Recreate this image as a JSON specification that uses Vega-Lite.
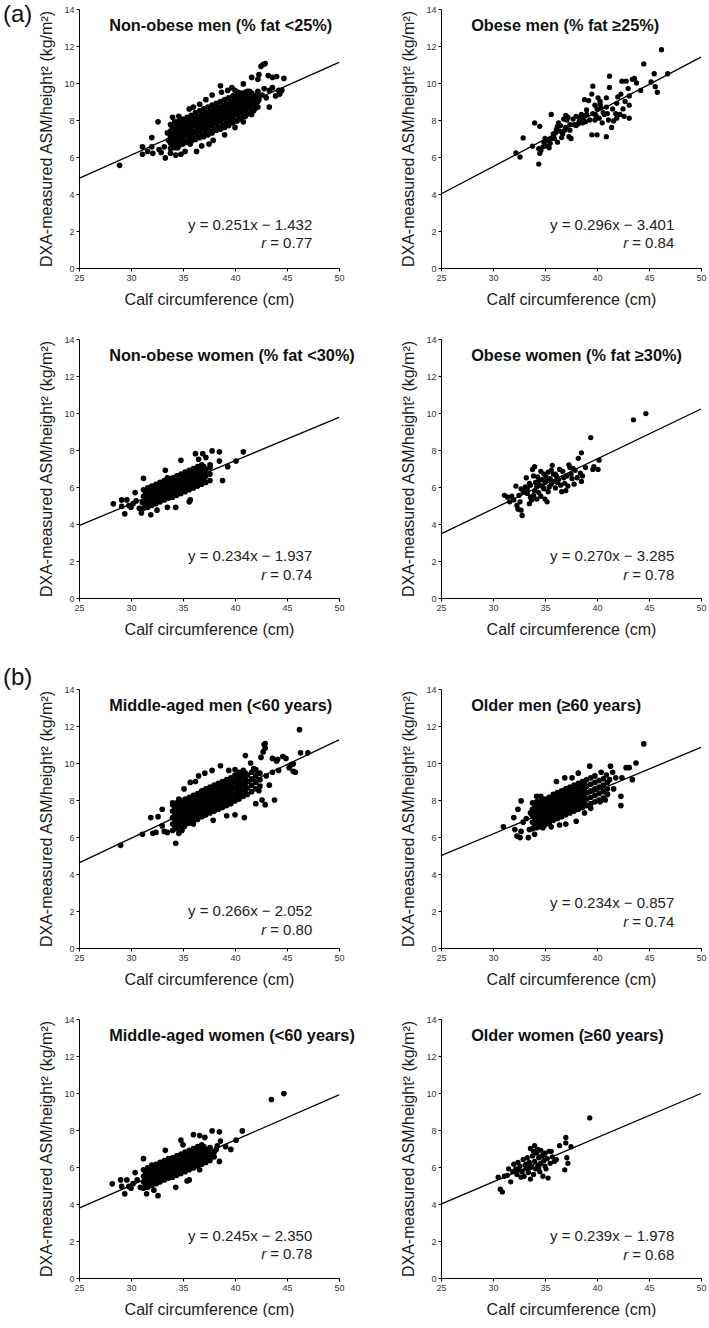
{
"$schema": "https://vega.github.io/schema/vega-lite/v6.json",
"background": "white",
"padding": {"left": 2, "top": 2, "right": 0, "bottom": 0},
"config": {
  "view": {"stroke": null},
  "font": "Liberation Sans",
  "axis": {"domainColor": "#000", "domainWidth": 1, "tickColor": "#000", "tickSize": 3, "tickWidth": 1, "labelFontSize": 9, "labelColor": "#333", "labelPadding": 2, "labelFlush": false, "titleFontSize": 16, "titleFontWeight": "normal", "titleColor": "#1a1a1a", "grid": false, "labelFont": "Liberation Sans", "titleFont": "Liberation Sans"},
  "axisX": {"titlePadding": 9},
  "axisY": {"titlePadding": 9}
},
"datasets": {
"lines": [{"p":1,"x":25,"y":4.843},{"p":1,"x":50,"y":11.118},{"p":2,"x":25,"y":3.999},{"p":2,"x":50,"y":11.399},{"p":3,"x":25,"y":3.913},{"p":3,"x":50,"y":9.763},{"p":4,"x":25,"y":3.465},{"p":4,"x":50,"y":10.215},{"p":5,"x":25,"y":4.598},{"p":5,"x":50,"y":11.248},{"p":6,"x":25,"y":4.993},{"p":6,"x":50,"y":10.843},{"p":7,"x":25,"y":3.775},{"p":7,"x":50,"y":9.9},{"p":8,"x":25,"y":3.997},{"p":8,"x":50,"y":9.972}],
"labels": [
{"p":1,"k":"tag","x":19.1,"y":13.68,"t":"(a)"},
{"p":5,"k":"tag","x":19.1,"y":14.6,"t":"(b)"},
{"p":1,"k":"title","x":27.9,"y":13.1,"t":"Non-obese men (% fat <25%)"},
{"p":1,"k":"eq","x":47.43,"y":2.32,"t":"y = 0.251x − 1.432"},
{"p":1,"k":"r","x":47.43,"y":1.33,"t":"= 0.77"},
{"p":2,"k":"title","x":27.9,"y":13.1,"t":"Obese men (% fat ≥25%)"},
{"p":2,"k":"eq","x":47.43,"y":2.3,"t":"y = 0.296x − 3.401"},
{"p":2,"k":"r","x":47.43,"y":1.35,"t":"= 0.84"},
{"p":3,"k":"title","x":27.9,"y":13.1,"t":"Non-obese women (% fat <30%)"},
{"p":3,"k":"eq","x":47.43,"y":2.26,"t":"y = 0.234x − 1.937"},
{"p":3,"k":"r","x":47.43,"y":1.23,"t":"= 0.74"},
{"p":4,"k":"title","x":27.9,"y":13.1,"t":"Obese women (% fat ≥30%)"},
{"p":4,"k":"eq","x":47.43,"y":2.26,"t":"y = 0.270x − 3.285"},
{"p":4,"k":"r","x":47.43,"y":1.26,"t":"= 0.78"},
{"p":5,"k":"title","x":27.9,"y":13.1,"t":"Middle-aged men (<60 years)"},
{"p":5,"k":"eq","x":47.43,"y":2.0,"t":"y = 0.266x − 2.052"},
{"p":5,"k":"r","x":47.43,"y":1.0,"t":"= 0.80"},
{"p":6,"k":"title","x":27.9,"y":13.1,"t":"Older men (≥60 years)"},
{"p":6,"k":"eq","x":47.43,"y":2.45,"t":"y = 0.234x − 0.857"},
{"p":6,"k":"r","x":47.43,"y":1.38,"t":"= 0.74"},
{"p":7,"k":"title","x":27.9,"y":13.1,"t":"Middle-aged women (<60 years)"},
{"p":7,"k":"eq","x":47.43,"y":2.29,"t":"y = 0.245x − 2.350"},
{"p":7,"k":"r","x":47.43,"y":1.3,"t":"= 0.78"},
{"p":8,"k":"title","x":27.9,"y":13.1,"t":"Older women (≥60 years)"},
{"p":8,"k":"eq","x":47.43,"y":2.29,"t":"y = 0.239x − 1.978"},
{"p":8,"k":"r","x":47.43,"y":1.25,"t":"= 0.68"}
],
"p1": [{"x":28.9,"y":5.55},{"x":31.1,"y":6.55},{"x":31.1,"y":6.15},{"x":31.6,"y":6.3},{"x":32.0,"y":7.05},{"x":32.0,"y":6.55},{"x":32.1,"y":6.2},{"x":32.6,"y":7.9},{"x":32.7,"y":6.4},{"x":32.9,"y":6.25},{"x":33.3,"y":5.95},{"x":33.2,"y":6.55},{"x":33.5,"y":7.3},{"x":33.8,"y":6.2},{"x":33.6,"y":6.9},{"x":34.0,"y":8.15},{"x":34.3,"y":6.1},{"x":34.8,"y":6.15},{"x":34.6,"y":8.2},{"x":35.2,"y":6.3},{"x":36.3,"y":6.3},{"x":35.6,"y":8.6},{"x":36.0,"y":8.7},{"x":36.6,"y":8.85},{"x":37.2,"y":9.1},{"x":37.8,"y":9.35},{"x":38.6,"y":9.85},{"x":39.3,"y":9.6},{"x":40.0,"y":9.6},{"x":40.3,"y":9.5},{"x":40.8,"y":9.95},{"x":41.2,"y":9.55},{"x":41.6,"y":10.3},{"x":42.2,"y":10.2},{"x":42.5,"y":10.9},{"x":42.7,"y":11.0},{"x":42.9,"y":11.05},{"x":42.3,"y":10.45},{"x":43.2,"y":10.4},{"x":43.6,"y":10.3},{"x":44.0,"y":10.35},{"x":44.7,"y":10.25},{"x":42.8,"y":9.7},{"x":43.3,"y":9.6},{"x":43.6,"y":9.75},{"x":44.2,"y":9.6},{"x":44.5,"y":9.6},{"x":44.3,"y":9.4},{"x":43.9,"y":9.3},{"x":43.3,"y":8.7},{"x":42.3,"y":9.1},{"x":42.0,"y":8.8},{"x":41.6,"y":8.3},{"x":40.8,"y":7.9},{"x":40.0,"y":7.6},{"x":39.0,"y":7.2},{"x":37.9,"y":6.9},{"x":37.5,"y":6.7},{"x":36.8,"y":6.6},{"x":35.7,"y":6.7},{"x":34.5,"y":6.5},{"x":38.7,"y":9.5},{"x":39.7,"y":9.75},{"x":41.8,"y":9.3},{"x":42.6,"y":9.35},{"x":43.0,"y":9.2},
{"x":33.8,"y":6.45},{"x":33.8,"y":6.75},{"x":33.8,"y":7.1},{"x":33.8,"y":7.4},{"x":33.8,"y":7.75},
{"x":34.0,"y":6.6},{"x":34.0,"y":6.95},{"x":34.0,"y":7.25},{"x":34.0,"y":7.6},
{"x":34.2,"y":6.5},{"x":34.2,"y":6.85},{"x":34.2,"y":7.2},{"x":34.2,"y":7.5},{"x":34.2,"y":7.9},
{"x":34.4,"y":6.7},{"x":34.4,"y":7.05},{"x":34.4,"y":7.35},{"x":34.4,"y":7.7},
{"x":34.6,"y":6.6},{"x":34.6,"y":6.95},{"x":34.6,"y":7.25},{"x":34.6,"y":7.6},{"x":34.6,"y":7.95},
{"x":34.8,"y":6.75},{"x":34.8,"y":7.1},{"x":34.8,"y":7.45},{"x":34.8,"y":7.8},
{"x":35.0,"y":6.7},{"x":35.0,"y":7.0},{"x":35.0,"y":7.4},{"x":35.0,"y":7.7},{"x":35.0,"y":8.05},
{"x":35.2,"y":6.85},{"x":35.2,"y":7.2},{"x":35.2,"y":7.55},{"x":35.2,"y":7.9},
{"x":35.4,"y":6.8},{"x":35.4,"y":7.15},{"x":35.4,"y":7.45},{"x":35.4,"y":7.8},{"x":35.4,"y":8.15},
{"x":35.6,"y":6.95},{"x":35.6,"y":7.3},{"x":35.6,"y":7.65},{"x":35.6,"y":8.0},
{"x":35.8,"y":6.85},{"x":35.8,"y":7.2},{"x":35.8,"y":7.55},{"x":35.8,"y":7.9},{"x":35.8,"y":8.25},
{"x":36.0,"y":7.0},{"x":36.0,"y":7.4},{"x":36.0,"y":7.75},{"x":36.0,"y":8.1},
{"x":36.2,"y":6.95},{"x":36.2,"y":7.3},{"x":36.2,"y":7.7},{"x":36.2,"y":8.0},{"x":36.2,"y":8.4},
{"x":36.4,"y":7.1},{"x":36.4,"y":7.5},{"x":36.4,"y":7.85},{"x":36.4,"y":8.2},
{"x":36.6,"y":7.05},{"x":36.6,"y":7.4},{"x":36.6,"y":7.75},{"x":36.6,"y":8.1},{"x":36.6,"y":8.5},
{"x":36.8,"y":7.2},{"x":36.8,"y":7.6},{"x":36.8,"y":7.95},{"x":36.8,"y":8.3},
{"x":37.0,"y":7.1},{"x":37.0,"y":7.5},{"x":37.0,"y":7.85},{"x":37.0,"y":8.2},{"x":37.0,"y":8.6},
{"x":37.2,"y":7.3},{"x":37.2,"y":7.7},{"x":37.2,"y":8.05},{"x":37.2,"y":8.4},
{"x":37.4,"y":7.2},{"x":37.4,"y":7.6},{"x":37.4,"y":7.95},{"x":37.4,"y":8.3},{"x":37.4,"y":8.7},
{"x":37.6,"y":7.4},{"x":37.6,"y":7.8},{"x":37.6,"y":8.15},{"x":37.6,"y":8.5},
{"x":37.8,"y":7.3},{"x":37.8,"y":7.7},{"x":37.8,"y":8.05},{"x":37.8,"y":8.4},{"x":37.8,"y":8.8},
{"x":38.0,"y":7.5},{"x":38.0,"y":7.9},{"x":38.0,"y":8.25},{"x":38.0,"y":8.6},
{"x":38.2,"y":7.45},{"x":38.2,"y":7.8},{"x":38.2,"y":8.15},{"x":38.2,"y":8.5},{"x":38.2,"y":8.9},
{"x":38.4,"y":7.6},{"x":38.4,"y":8.0},{"x":38.4,"y":8.35},{"x":38.4,"y":8.7},
{"x":38.6,"y":7.5},{"x":38.6,"y":7.9},{"x":38.6,"y":8.25},{"x":38.6,"y":8.6},{"x":38.6,"y":9.0},
{"x":38.8,"y":7.7},{"x":38.8,"y":8.1},{"x":38.8,"y":8.45},{"x":38.8,"y":8.8},
{"x":39.0,"y":7.6},{"x":39.0,"y":8.0},{"x":39.0,"y":8.35},{"x":39.0,"y":8.7},{"x":39.0,"y":9.1},
{"x":39.2,"y":7.8},{"x":39.2,"y":8.2},{"x":39.2,"y":8.55},{"x":39.2,"y":8.9},
{"x":39.4,"y":7.7},{"x":39.4,"y":8.1},{"x":39.4,"y":8.45},{"x":39.4,"y":8.8},{"x":39.4,"y":9.2},
{"x":39.6,"y":7.9},{"x":39.6,"y":8.3},{"x":39.6,"y":8.65},{"x":39.6,"y":9.0},
{"x":39.8,"y":7.85},{"x":39.8,"y":8.2},{"x":39.8,"y":8.55},{"x":39.8,"y":8.9},{"x":39.8,"y":9.3},
{"x":40.0,"y":8.0},{"x":40.0,"y":8.4},{"x":40.0,"y":8.75},{"x":40.0,"y":9.1},
{"x":40.2,"y":7.95},{"x":40.2,"y":8.3},{"x":40.2,"y":8.65},{"x":40.2,"y":9.0},{"x":40.2,"y":9.35},
{"x":40.4,"y":8.1},{"x":40.4,"y":8.5},{"x":40.4,"y":8.85},{"x":40.4,"y":9.2},
{"x":40.6,"y":8.05},{"x":40.6,"y":8.4},{"x":40.6,"y":8.75},{"x":40.6,"y":9.1},{"x":40.6,"y":9.45},
{"x":40.8,"y":8.2},{"x":40.8,"y":8.6},{"x":40.8,"y":8.95},{"x":40.8,"y":9.3},
{"x":41.0,"y":8.2},{"x":41.0,"y":8.5},{"x":41.0,"y":8.85},{"x":41.0,"y":9.2},{"x":41.0,"y":9.5},
{"x":41.2,"y":8.35},{"x":41.2,"y":8.7},{"x":41.2,"y":9.05},{"x":41.2,"y":9.35},
{"x":41.4,"y":8.35},{"x":41.4,"y":8.65},{"x":41.4,"y":8.95},{"x":41.4,"y":9.25},{"x":41.4,"y":9.55},
{"x":41.6,"y":8.5},{"x":41.6,"y":8.85},{"x":41.6,"y":9.15},{"x":41.6,"y":9.45},
{"x":41.8,"y":8.5},{"x":41.8,"y":8.8},{"x":41.8,"y":9.05},{"x":41.8,"y":9.35},
{"x":42.0,"y":8.65},{"x":42.0,"y":8.95},{"x":42.0,"y":9.25},
{"x":42.2,"y":8.7},{"x":42.2,"y":9.0},{"x":42.2,"y":9.3},{"x":42.2,"y":9.55}],
"p2": [{"x":32.2,"y":6.22},{"x":32.6,"y":6.0},{"x":32.9,"y":7.03},{"x":33.8,"y":6.58},{"x":34.0,"y":7.84},{"x":34.4,"y":5.62},{"x":34.5,"y":7.66},{"x":34.4,"y":6.45},{"x":34.5,"y":6.2},{"x":34.6,"y":6.35},{"x":34.9,"y":6.8},{"x":35.0,"y":7.0},{"x":35.1,"y":6.6},{"x":35.4,"y":6.5},{"x":35.5,"y":6.75},{"x":35.6,"y":7.0},{"x":35.6,"y":8.3},{"x":35.9,"y":7.0},{"x":36.0,"y":7.3},{"x":36.1,"y":7.5},{"x":36.2,"y":7.65},{"x":36.3,"y":7.85},{"x":36.5,"y":7.7},{"x":36.7,"y":7.25},{"x":36.8,"y":8.05},{"x":36.9,"y":7.45},{"x":37.0,"y":8.25},{"x":37.1,"y":8.0},{"x":37.0,"y":7.6},{"x":37.3,"y":7.1},{"x":37.4,"y":7.45},{"x":37.4,"y":7.75},{"x":37.5,"y":7.0},{"x":37.7,"y":8.05},{"x":38.0,"y":8.2},{"x":38.3,"y":7.95},{"x":38.4,"y":8.15},{"x":38.6,"y":7.85},{"x":38.7,"y":8.1},{"x":38.9,"y":7.9},{"x":39.0,"y":8.3},{"x":39.0,"y":8.55},{"x":38.8,"y":9.1},{"x":39.2,"y":9.05},{"x":39.5,"y":9.4},{"x":39.6,"y":9.83},{"x":39.8,"y":8.0},{"x":39.9,"y":8.25},{"x":40.0,"y":8.6},{"x":39.5,"y":7.2},{"x":40.0,"y":7.2},{"x":40.1,"y":9.2},{"x":40.3,"y":8.85},{"x":40.4,"y":8.65},{"x":40.5,"y":7.85},{"x":40.7,"y":8.3},{"x":40.9,"y":9.2},{"x":40.9,"y":8.7},{"x":41.0,"y":8.35},{"x":41.2,"y":9.76},{"x":41.2,"y":10.37},{"x":40.9,"y":7.1},{"x":41.4,"y":7.6},{"x":41.6,"y":7.95},{"x":41.9,"y":8.1},{"x":41.9,"y":8.9},{"x":42.0,"y":9.25},{"x":42.3,"y":9.4},{"x":42.5,"y":8.6},{"x":42.7,"y":9.0},{"x":43.1,"y":9.3},{"x":42.4,"y":10.1},{"x":43.0,"y":9.7},{"x":43.1,"y":8.8},{"x":43.1,"y":8.1},{"x":43.4,"y":10.2},{"x":43.6,"y":10.25},{"x":43.8,"y":10.0},{"x":44.2,"y":9.6},{"x":44.5,"y":11.03},{"x":45.2,"y":10.06},{"x":45.5,"y":10.5},{"x":45.6,"y":9.8},{"x":45.8,"y":9.5},{"x":46.2,"y":11.8},{"x":46.8,"y":10.5},{"x":36.2,"y":6.8},{"x":36.6,"y":7.05},{"x":37.8,"y":7.75},{"x":38.2,"y":7.8},{"x":38.5,"y":8.3},{"x":39.3,"y":8.0},{"x":39.6,"y":8.35},{"x":40.2,"y":8.1},{"x":40.6,"y":8.4},{"x":41.1,"y":8.0},{"x":41.5,"y":8.6},{"x":41.8,"y":8.35},{"x":42.2,"y":8.3},{"x":40.3,"y":9.0},{"x":39.8,"y":8.8},{"x":42.8,"y":10.1},{"x":42.6,"y":8.2},{"x":38.0,"y":7.7},{"x":37.2,"y":8.15},{"x":36.4,"y":7.4},{"x":35.8,"y":7.25},{"x":35.2,"y":6.9},{"x":34.8,"y":6.55}],
"p3": [{"x":28.3,"y":5.09},{"x":29.1,"y":5.3},{"x":29.1,"y":4.95},{"x":29.4,"y":4.55},{"x":29.6,"y":5.3},{"x":30.0,"y":4.9},{"x":30.2,"y":5.1},{"x":30.4,"y":5.7},{"x":30.5,"y":5.25},{"x":30.8,"y":4.85},{"x":31.0,"y":4.6},{"x":31.1,"y":5.15},{"x":31.2,"y":6.47},{"x":31.9,"y":4.5},{"x":32.1,"y":6.0},{"x":33.3,"y":6.9},{"x":33.5,"y":6.5},{"x":34.8,"y":7.44},{"x":36.2,"y":7.8},{"x":36.9,"y":7.8},{"x":37.8,"y":7.95},{"x":38.5,"y":7.9},{"x":38.5,"y":7.4},{"x":39.3,"y":7.1},{"x":40.1,"y":7.4},{"x":40.8,"y":7.9},{"x":38.8,"y":6.35},{"x":33.5,"y":4.9},{"x":34.3,"y":4.9},{"x":35.6,"y":5.2},{"x":35.7,"y":5.3},{"x":37.2,"y":7.6},{"x":37.6,"y":7.2},{"x":36.5,"y":7.5},{"x":32.5,"y":4.75},{"x":29.8,"y":5.0},
{"x":31.2,"y":4.85},{"x":31.2,"y":5.2},{"x":31.2,"y":5.5},{"x":31.2,"y":5.85},
{"x":31.4,"y":5.05},{"x":31.4,"y":5.4},{"x":31.4,"y":5.7},
{"x":31.6,"y":4.9},{"x":31.6,"y":5.25},{"x":31.6,"y":5.6},{"x":31.6,"y":5.95},
{"x":31.8,"y":5.1},{"x":31.8,"y":5.45},{"x":31.8,"y":5.8},
{"x":32.0,"y":5.0},{"x":32.0,"y":5.35},{"x":32.0,"y":5.7},{"x":32.0,"y":6.05},
{"x":32.2,"y":5.2},{"x":32.2,"y":5.55},{"x":32.2,"y":5.9},
{"x":32.4,"y":5.1},{"x":32.4,"y":5.45},{"x":32.4,"y":5.8},{"x":32.4,"y":6.15},
{"x":32.6,"y":5.3},{"x":32.6,"y":5.65},{"x":32.6,"y":6.0},
{"x":32.8,"y":5.2},{"x":32.8,"y":5.55},{"x":32.8,"y":5.9},{"x":32.8,"y":6.25},
{"x":33.0,"y":5.4},{"x":33.0,"y":5.75},{"x":33.0,"y":6.1},
{"x":33.2,"y":5.3},{"x":33.2,"y":5.65},{"x":33.2,"y":6.0},{"x":33.2,"y":6.35},
{"x":33.4,"y":5.5},{"x":33.4,"y":5.85},{"x":33.4,"y":6.2},
{"x":33.6,"y":5.4},{"x":33.6,"y":5.75},{"x":33.6,"y":6.1},{"x":33.6,"y":6.45},
{"x":33.8,"y":5.6},{"x":33.8,"y":5.95},{"x":33.8,"y":6.3},
{"x":34.0,"y":5.45},{"x":34.0,"y":5.8},{"x":34.0,"y":6.15},{"x":34.0,"y":6.5},
{"x":34.2,"y":5.7},{"x":34.2,"y":6.05},{"x":34.2,"y":6.4},
{"x":34.4,"y":5.55},{"x":34.4,"y":5.9},{"x":34.4,"y":6.25},{"x":34.4,"y":6.6},
{"x":34.6,"y":5.8},{"x":34.6,"y":6.15},{"x":34.6,"y":6.5},
{"x":34.8,"y":5.65},{"x":34.8,"y":6.0},{"x":34.8,"y":6.35},{"x":34.8,"y":6.7},
{"x":35.0,"y":5.9},{"x":35.0,"y":6.25},{"x":35.0,"y":6.6},
{"x":35.2,"y":5.75},{"x":35.2,"y":6.1},{"x":35.2,"y":6.45},{"x":35.2,"y":6.8},
{"x":35.4,"y":6.0},{"x":35.4,"y":6.35},{"x":35.4,"y":6.7},
{"x":35.6,"y":5.85},{"x":35.6,"y":6.2},{"x":35.6,"y":6.55},{"x":35.6,"y":6.9},
{"x":35.8,"y":6.1},{"x":35.8,"y":6.45},{"x":35.8,"y":6.8},
{"x":36.0,"y":5.95},{"x":36.0,"y":6.3},{"x":36.0,"y":6.65},{"x":36.0,"y":7.0},
{"x":36.2,"y":6.2},{"x":36.2,"y":6.55},{"x":36.2,"y":6.9},
{"x":36.4,"y":6.05},{"x":36.4,"y":6.4},{"x":36.4,"y":6.75},{"x":36.4,"y":7.1},
{"x":36.6,"y":6.3},{"x":36.6,"y":6.65},{"x":36.6,"y":7.0},
{"x":36.8,"y":6.15},{"x":36.8,"y":6.5},{"x":36.8,"y":6.85},{"x":36.8,"y":7.2},
{"x":37.0,"y":6.4},{"x":37.0,"y":6.75},{"x":37.0,"y":7.1},
{"x":37.2,"y":6.25},{"x":37.2,"y":6.6},{"x":37.2,"y":6.95},
{"x":37.6,"y":6.35},{"x":37.6,"y":6.7},{"x":37.6,"y":7.05}],
"p4": [{"x":31.1,"y":5.55},{"x":31.4,"y":5.45},{"x":31.6,"y":5.2},{"x":32.0,"y":5.3},{"x":32.2,"y":6.05},{"x":32.3,"y":5.0},{"x":32.4,"y":4.8},{"x":32.5,"y":5.55},{"x":32.6,"y":5.2},{"x":32.7,"y":4.75},{"x":32.8,"y":4.46},{"x":32.9,"y":5.75},{"x":33.0,"y":5.85},{"x":33.1,"y":6.0},{"x":33.2,"y":6.5},{"x":33.3,"y":5.65},{"x":33.3,"y":5.9},{"x":33.5,"y":6.2},{"x":33.6,"y":5.45},{"x":33.7,"y":5.3},{"x":33.8,"y":6.95},{"x":33.9,"y":5.55},{"x":34.0,"y":7.1},{"x":34.0,"y":5.8},{"x":34.1,"y":6.25},{"x":34.2,"y":6.0},{"x":34.3,"y":6.55},{"x":34.4,"y":5.7},{"x":34.5,"y":6.1},{"x":34.6,"y":5.5},{"x":34.7,"y":6.4},{"x":34.8,"y":6.0},{"x":34.9,"y":6.7},{"x":35.0,"y":5.35},{"x":35.0,"y":6.25},{"x":35.1,"y":6.55},{"x":35.2,"y":5.2},{"x":35.3,"y":6.8},{"x":35.4,"y":6.0},{"x":35.5,"y":6.45},{"x":35.6,"y":6.15},{"x":35.7,"y":7.17},{"x":35.8,"y":6.7},{"x":35.9,"y":6.3},{"x":36.0,"y":5.95},{"x":36.1,"y":6.6},{"x":36.3,"y":6.4},{"x":36.4,"y":6.95},{"x":36.5,"y":6.1},{"x":36.6,"y":5.75},{"x":36.8,"y":6.5},{"x":36.9,"y":6.2},{"x":37.0,"y":5.8},{"x":37.1,"y":6.6},{"x":37.2,"y":6.05},{"x":37.3,"y":7.2},{"x":37.4,"y":7.05},{"x":37.5,"y":6.7},{"x":37.6,"y":6.45},{"x":37.7,"y":7.0},{"x":37.9,"y":6.9},{"x":38.1,"y":6.5},{"x":38.2,"y":7.55},{"x":38.4,"y":6.75},{"x":38.5,"y":7.85},{"x":38.5,"y":6.3},{"x":38.6,"y":6.6},{"x":38.9,"y":7.05},{"x":39.4,"y":8.67},{"x":39.6,"y":6.95},{"x":39.7,"y":7.1},{"x":40.1,"y":6.95},{"x":40.2,"y":7.45},{"x":43.5,"y":9.63},{"x":44.7,"y":9.97},{"x":33.5,"y":5.1},{"x":34.2,"y":5.35},{"x":35.3,"y":5.75},{"x":36.2,"y":6.25},{"x":33.9,"y":6.6},{"x":34.6,"y":6.85},{"x":35.6,"y":6.9},{"x":36.7,"y":6.85},{"x":37.8,"y":6.15},{"x":32.7,"y":5.9},{"x":31.8,"y":5.5},{"x":34.9,"y":5.9},{"x":36.0,"y":6.7},{"x":35.1,"y":6.35},{"x":34.4,"y":6.35},{"x":33.6,"y":6.1}],
"p5": [{"x":29.0,"y":5.55},{"x":31.1,"y":6.15},{"x":31.9,"y":7.05},{"x":32.1,"y":6.2},{"x":32.4,"y":6.25},{"x":32.6,"y":7.1},{"x":33.0,"y":6.6},{"x":33.0,"y":7.5},{"x":33.2,"y":6.3},{"x":33.5,"y":6.25},{"x":34.3,"y":5.66},{"x":34.6,"y":6.2},{"x":34.9,"y":6.35},{"x":35.1,"y":6.55},{"x":34.0,"y":7.85},{"x":34.6,"y":8.05},{"x":35.1,"y":8.6},{"x":35.7,"y":8.95},{"x":36.2,"y":9.0},{"x":36.5,"y":9.3},{"x":37.1,"y":9.45},{"x":37.8,"y":9.6},{"x":38.6,"y":9.85},{"x":39.4,"y":9.6},{"x":40.0,"y":9.65},{"x":40.4,"y":9.5},{"x":41.0,"y":10.4},{"x":41.5,"y":10.0},{"x":42.5,"y":10.3},{"x":42.7,"y":10.6},{"x":42.9,"y":10.8},{"x":42.8,"y":11.0},{"x":42.9,"y":11.05},{"x":43.6,"y":10.25},{"x":44.1,"y":10.2},{"x":44.6,"y":10.35},{"x":44.9,"y":10.25},{"x":45.2,"y":9.75},{"x":45.4,"y":9.9},{"x":45.6,"y":9.95},{"x":45.6,"y":9.55},{"x":45.8,"y":9.5},{"x":46.3,"y":10.55},{"x":46.2,"y":11.8},{"x":47.0,"y":10.55},{"x":36.9,"y":7.15},{"x":37.9,"y":6.9},{"x":39.2,"y":7.15},{"x":40.0,"y":7.2},{"x":40.9,"y":7.05},{"x":42.0,"y":7.8},{"x":42.6,"y":8.0},{"x":42.9,"y":7.75},{"x":43.8,"y":8.0},{"x":42.3,"y":8.5},{"x":43.3,"y":8.8},{"x":43.0,"y":9.3},{"x":43.6,"y":9.5},{"x":44.2,"y":9.6},{"x":41.8,"y":9.7},{"x":42.2,"y":9.45},{"x":44.0,"y":10.1},{"x":36.0,"y":6.7},{"x":35.6,"y":6.9},
{"x":34.0,"y":6.35},{"x":34.0,"y":6.7},{"x":34.0,"y":7.05},{"x":34.0,"y":7.4},{"x":34.0,"y":7.75},
{"x":34.2,"y":6.6},{"x":34.2,"y":6.95},{"x":34.2,"y":7.3},{"x":34.2,"y":7.65},
{"x":34.4,"y":6.45},{"x":34.4,"y":6.8},{"x":34.4,"y":7.15},{"x":34.4,"y":7.5},{"x":34.4,"y":7.85},
{"x":34.6,"y":6.7},{"x":34.6,"y":7.05},{"x":34.6,"y":7.4},{"x":34.6,"y":7.75},
{"x":34.8,"y":6.55},{"x":34.8,"y":6.9},{"x":34.8,"y":7.25},{"x":34.8,"y":7.6},{"x":34.8,"y":7.95},
{"x":35.0,"y":6.8},{"x":35.0,"y":7.15},{"x":35.0,"y":7.5},{"x":35.0,"y":7.85},
{"x":35.2,"y":6.65},{"x":35.2,"y":7.0},{"x":35.2,"y":7.35},{"x":35.2,"y":7.7},{"x":35.2,"y":8.05},
{"x":35.4,"y":6.85},{"x":35.4,"y":7.2},{"x":35.4,"y":7.55},{"x":35.4,"y":7.9},
{"x":35.6,"y":6.75},{"x":35.6,"y":7.1},{"x":35.6,"y":7.45},{"x":35.6,"y":7.8},{"x":35.6,"y":8.15},
{"x":35.8,"y":6.95},{"x":35.8,"y":7.3},{"x":35.8,"y":7.65},{"x":35.8,"y":8.0},
{"x":36.0,"y":6.85},{"x":36.0,"y":7.2},{"x":36.0,"y":7.55},{"x":36.0,"y":7.9},{"x":36.0,"y":8.25},
{"x":36.2,"y":7.1},{"x":36.2,"y":7.45},{"x":36.2,"y":7.8},{"x":36.2,"y":8.15},
{"x":36.4,"y":6.95},{"x":36.4,"y":7.3},{"x":36.4,"y":7.65},{"x":36.4,"y":8.0},{"x":36.4,"y":8.35},
{"x":36.6,"y":7.2},{"x":36.6,"y":7.55},{"x":36.6,"y":7.9},{"x":36.6,"y":8.25},
{"x":36.8,"y":7.1},{"x":36.8,"y":7.45},{"x":36.8,"y":7.8},{"x":36.8,"y":8.15},{"x":36.8,"y":8.5},
{"x":37.0,"y":7.3},{"x":37.0,"y":7.65},{"x":37.0,"y":8.0},{"x":37.0,"y":8.35},
{"x":37.2,"y":7.2},{"x":37.2,"y":7.55},{"x":37.2,"y":7.9},{"x":37.2,"y":8.25},{"x":37.2,"y":8.6},
{"x":37.4,"y":7.4},{"x":37.4,"y":7.75},{"x":37.4,"y":8.1},{"x":37.4,"y":8.45},
{"x":37.6,"y":7.3},{"x":37.6,"y":7.65},{"x":37.6,"y":8.0},{"x":37.6,"y":8.35},{"x":37.6,"y":8.7},
{"x":37.8,"y":7.5},{"x":37.8,"y":7.85},{"x":37.8,"y":8.2},{"x":37.8,"y":8.55},
{"x":38.0,"y":7.4},{"x":38.0,"y":7.75},{"x":38.0,"y":8.1},{"x":38.0,"y":8.45},{"x":38.0,"y":8.8},
{"x":38.2,"y":7.6},{"x":38.2,"y":7.95},{"x":38.2,"y":8.3},{"x":38.2,"y":8.65},
{"x":38.4,"y":7.5},{"x":38.4,"y":7.85},{"x":38.4,"y":8.2},{"x":38.4,"y":8.55},{"x":38.4,"y":8.9},
{"x":38.6,"y":7.7},{"x":38.6,"y":8.05},{"x":38.6,"y":8.4},{"x":38.6,"y":8.75},
{"x":38.8,"y":7.6},{"x":38.8,"y":7.95},{"x":38.8,"y":8.3},{"x":38.8,"y":8.65},{"x":38.8,"y":9.0},
{"x":39.0,"y":7.8},{"x":39.0,"y":8.15},{"x":39.0,"y":8.5},{"x":39.0,"y":8.85},
{"x":39.2,"y":7.7},{"x":39.2,"y":8.05},{"x":39.2,"y":8.4},{"x":39.2,"y":8.75},{"x":39.2,"y":9.1},
{"x":39.4,"y":7.9},{"x":39.4,"y":8.25},{"x":39.4,"y":8.6},{"x":39.4,"y":8.95},
{"x":39.6,"y":7.8},{"x":39.6,"y":8.15},{"x":39.6,"y":8.5},{"x":39.6,"y":8.85},{"x":39.6,"y":9.2},
{"x":39.8,"y":8.0},{"x":39.8,"y":8.35},{"x":39.8,"y":8.7},{"x":39.8,"y":9.05},
{"x":40.0,"y":7.95},{"x":40.0,"y":8.3},{"x":40.0,"y":8.65},{"x":40.0,"y":9.0},{"x":40.0,"y":9.35},
{"x":40.2,"y":8.15},{"x":40.2,"y":8.5},{"x":40.2,"y":8.85},{"x":40.2,"y":9.2},
{"x":40.4,"y":8.05},{"x":40.4,"y":8.4},{"x":40.4,"y":8.75},{"x":40.4,"y":9.1},{"x":40.4,"y":9.45},
{"x":40.6,"y":8.25},{"x":40.6,"y":8.6},{"x":40.6,"y":8.95},{"x":40.6,"y":9.3},
{"x":40.8,"y":8.2},{"x":40.8,"y":8.55},{"x":40.8,"y":8.9},{"x":40.8,"y":9.25},{"x":40.8,"y":9.6},
{"x":41.0,"y":8.4},{"x":41.0,"y":8.75},{"x":41.0,"y":9.1},{"x":41.0,"y":9.45},
{"x":41.2,"y":8.3},{"x":41.2,"y":8.65},{"x":41.2,"y":9.0},{"x":41.2,"y":9.35},
{"x":41.6,"y":8.45},{"x":41.6,"y":8.8},{"x":41.6,"y":9.15},{"x":41.6,"y":9.5},
{"x":42.0,"y":8.6},{"x":42.0,"y":8.95},{"x":42.0,"y":9.3},{"x":42.0,"y":9.65},
{"x":42.4,"y":8.75},{"x":42.4,"y":9.1},{"x":42.4,"y":9.45}],
"p6": [{"x":31.0,"y":6.55},{"x":32.0,"y":7.05},{"x":32.1,"y":6.4},{"x":32.3,"y":6.05},{"x":32.6,"y":5.97},{"x":32.7,"y":6.3},{"x":32.4,"y":7.5},{"x":32.7,"y":7.95},{"x":33.4,"y":5.97},{"x":33.5,"y":6.4},{"x":34.0,"y":6.15},{"x":33.8,"y":7.85},{"x":34.2,"y":8.2},{"x":34.6,"y":8.2},{"x":33.2,"y":7.0},{"x":32.9,"y":6.8},{"x":36.1,"y":9.0},{"x":36.9,"y":9.2},{"x":37.6,"y":9.2},{"x":38.2,"y":9.45},{"x":39.3,"y":9.83},{"x":40.4,"y":9.5},{"x":41.3,"y":9.83},{"x":41.5,"y":9.5},{"x":41.8,"y":9.2},{"x":42.3,"y":8.2},{"x":42.3,"y":7.7},{"x":42.4,"y":9.2},{"x":42.8,"y":9.75},{"x":43.1,"y":9.75},{"x":43.4,"y":9.1},{"x":43.75,"y":10.0},{"x":44.5,"y":11.03},{"x":37.0,"y":6.7},{"x":38.0,"y":6.85},{"x":38.8,"y":7.3},{"x":39.4,"y":7.55},{"x":40.3,"y":7.9},{"x":40.8,"y":8.0},{"x":35.6,"y":6.55},{"x":36.4,"y":6.65},{"x":34.8,"y":6.5},{"x":33.6,"y":7.3},{"x":34.4,"y":7.9},{"x":41.6,"y":8.6},{"x":41.2,"y":9.1},{"x":40.9,"y":9.35},
{"x":33.8,"y":6.45},{"x":33.8,"y":6.8},{"x":33.8,"y":7.15},{"x":33.8,"y":7.5},
{"x":34.0,"y":6.7},{"x":34.0,"y":7.05},{"x":34.0,"y":7.4},{"x":34.0,"y":7.75},
{"x":34.2,"y":6.5},{"x":34.2,"y":6.85},{"x":34.2,"y":7.2},{"x":34.2,"y":7.55},{"x":34.2,"y":7.9},
{"x":34.4,"y":6.75},{"x":34.4,"y":7.1},{"x":34.4,"y":7.45},{"x":34.4,"y":7.8},
{"x":34.6,"y":6.55},{"x":34.6,"y":6.9},{"x":34.6,"y":7.25},{"x":34.6,"y":7.6},{"x":34.6,"y":7.95},
{"x":34.8,"y":6.8},{"x":34.8,"y":7.15},{"x":34.8,"y":7.5},{"x":34.8,"y":7.85},
{"x":35.0,"y":6.65},{"x":35.0,"y":7.0},{"x":35.0,"y":7.35},{"x":35.0,"y":7.7},{"x":35.0,"y":8.05},
{"x":35.2,"y":6.9},{"x":35.2,"y":7.25},{"x":35.2,"y":7.6},{"x":35.2,"y":7.95},
{"x":35.4,"y":6.75},{"x":35.4,"y":7.1},{"x":35.4,"y":7.45},{"x":35.4,"y":7.8},{"x":35.4,"y":8.15},
{"x":35.6,"y":7.0},{"x":35.6,"y":7.35},{"x":35.6,"y":7.7},{"x":35.6,"y":8.05},
{"x":35.8,"y":6.9},{"x":35.8,"y":7.25},{"x":35.8,"y":7.6},{"x":35.8,"y":7.95},{"x":35.8,"y":8.3},
{"x":36.0,"y":7.1},{"x":36.0,"y":7.45},{"x":36.0,"y":7.8},{"x":36.0,"y":8.15},
{"x":36.2,"y":7.0},{"x":36.2,"y":7.35},{"x":36.2,"y":7.7},{"x":36.2,"y":8.05},{"x":36.2,"y":8.4},
{"x":36.4,"y":7.2},{"x":36.4,"y":7.55},{"x":36.4,"y":7.9},{"x":36.4,"y":8.25},
{"x":36.6,"y":7.1},{"x":36.6,"y":7.45},{"x":36.6,"y":7.8},{"x":36.6,"y":8.15},{"x":36.6,"y":8.5},
{"x":36.8,"y":7.3},{"x":36.8,"y":7.65},{"x":36.8,"y":8.0},{"x":36.8,"y":8.35},
{"x":37.0,"y":7.2},{"x":37.0,"y":7.55},{"x":37.0,"y":7.9},{"x":37.0,"y":8.25},{"x":37.0,"y":8.6},
{"x":37.2,"y":7.4},{"x":37.2,"y":7.75},{"x":37.2,"y":8.1},{"x":37.2,"y":8.45},
{"x":37.4,"y":7.3},{"x":37.4,"y":7.65},{"x":37.4,"y":8.0},{"x":37.4,"y":8.35},{"x":37.4,"y":8.7},
{"x":37.6,"y":7.5},{"x":37.6,"y":7.85},{"x":37.6,"y":8.2},{"x":37.6,"y":8.55},
{"x":37.8,"y":7.4},{"x":37.8,"y":7.75},{"x":37.8,"y":8.1},{"x":37.8,"y":8.45},{"x":37.8,"y":8.8},
{"x":38.0,"y":7.6},{"x":38.0,"y":7.95},{"x":38.0,"y":8.3},{"x":38.0,"y":8.65},
{"x":38.2,"y":7.5},{"x":38.2,"y":7.85},{"x":38.2,"y":8.2},{"x":38.2,"y":8.55},{"x":38.2,"y":8.9},
{"x":38.4,"y":7.7},{"x":38.4,"y":8.05},{"x":38.4,"y":8.4},{"x":38.4,"y":8.75},
{"x":38.6,"y":7.6},{"x":38.6,"y":7.95},{"x":38.6,"y":8.3},{"x":38.6,"y":8.65},{"x":38.6,"y":9.0},
{"x":38.8,"y":7.8},{"x":38.8,"y":8.15},{"x":38.8,"y":8.5},{"x":38.8,"y":8.85},
{"x":39.0,"y":7.7},{"x":39.0,"y":8.05},{"x":39.0,"y":8.4},{"x":39.0,"y":8.75},{"x":39.0,"y":9.1},
{"x":39.4,"y":7.8},{"x":39.4,"y":8.15},{"x":39.4,"y":8.5},{"x":39.4,"y":8.85},{"x":39.4,"y":9.2},
{"x":39.8,"y":7.9},{"x":39.8,"y":8.25},{"x":39.8,"y":8.6},{"x":39.8,"y":8.95},{"x":39.8,"y":9.3},
{"x":40.2,"y":8.0},{"x":40.2,"y":8.35},{"x":40.2,"y":8.7},{"x":40.2,"y":9.05},
{"x":40.6,"y":8.1},{"x":40.6,"y":8.45},{"x":40.6,"y":8.8},{"x":40.6,"y":9.15},
{"x":41.0,"y":8.3},{"x":41.0,"y":8.6},{"x":41.0,"y":8.95}],
"p7": [{"x":28.2,"y":5.09},{"x":29.0,"y":5.3},{"x":29.1,"y":4.95},{"x":29.4,"y":4.55},{"x":29.6,"y":5.3},{"x":30.0,"y":4.85},{"x":30.2,"y":5.1},{"x":30.4,"y":5.7},{"x":30.6,"y":5.3},{"x":30.9,"y":4.9},{"x":31.2,"y":6.45},{"x":31.5,"y":4.55},{"x":32.0,"y":6.1},{"x":32.2,"y":4.75},{"x":32.6,"y":4.45},{"x":33.3,"y":6.9},{"x":34.8,"y":7.45},{"x":35.0,"y":7.2},{"x":36.0,"y":7.75},{"x":36.6,"y":7.7},{"x":37.1,"y":7.6},{"x":37.8,"y":7.95},{"x":38.5,"y":7.9},{"x":38.6,"y":7.4},{"x":38.5,"y":6.3},{"x":39.1,"y":7.1},{"x":39.6,"y":6.95},{"x":40.1,"y":7.45},{"x":40.7,"y":7.95},{"x":43.5,"y":9.65},{"x":44.7,"y":9.97},{"x":34.3,"y":4.9},{"x":35.4,"y":5.25},{"x":35.6,"y":5.3},{"x":36.6,"y":5.85},{"x":37.6,"y":6.5},{"x":38.0,"y":6.55},{"x":38.3,"y":7.15},{"x":32.5,"y":5.15},{"x":29.8,"y":4.95},
{"x":31.2,"y":4.85},{"x":31.2,"y":5.2},{"x":31.2,"y":5.5},{"x":31.2,"y":5.85},
{"x":31.4,"y":5.05},{"x":31.4,"y":5.4},{"x":31.4,"y":5.7},
{"x":31.6,"y":4.9},{"x":31.6,"y":5.25},{"x":31.6,"y":5.6},{"x":31.6,"y":5.95},
{"x":31.8,"y":5.1},{"x":31.8,"y":5.45},{"x":31.8,"y":5.8},
{"x":32.0,"y":5.0},{"x":32.0,"y":5.35},{"x":32.0,"y":5.7},
{"x":32.2,"y":5.2},{"x":32.2,"y":5.55},{"x":32.2,"y":5.9},
{"x":32.4,"y":5.1},{"x":32.4,"y":5.45},{"x":32.4,"y":5.8},{"x":32.4,"y":6.15},
{"x":32.6,"y":5.3},{"x":32.6,"y":5.65},{"x":32.6,"y":6.0},
{"x":32.8,"y":5.2},{"x":32.8,"y":5.55},{"x":32.8,"y":5.9},{"x":32.8,"y":6.25},
{"x":33.0,"y":5.4},{"x":33.0,"y":5.75},{"x":33.0,"y":6.1},
{"x":33.2,"y":5.3},{"x":33.2,"y":5.65},{"x":33.2,"y":6.0},{"x":33.2,"y":6.35},
{"x":33.4,"y":5.5},{"x":33.4,"y":5.85},{"x":33.4,"y":6.2},
{"x":33.6,"y":5.4},{"x":33.6,"y":5.75},{"x":33.6,"y":6.1},{"x":33.6,"y":6.45},
{"x":33.8,"y":5.6},{"x":33.8,"y":5.95},{"x":33.8,"y":6.3},
{"x":34.0,"y":5.45},{"x":34.0,"y":5.8},{"x":34.0,"y":6.15},{"x":34.0,"y":6.5},
{"x":34.2,"y":5.7},{"x":34.2,"y":6.05},{"x":34.2,"y":6.4},
{"x":34.4,"y":5.55},{"x":34.4,"y":5.9},{"x":34.4,"y":6.25},{"x":34.4,"y":6.6},
{"x":34.6,"y":5.8},{"x":34.6,"y":6.15},{"x":34.6,"y":6.5},
{"x":34.8,"y":5.65},{"x":34.8,"y":6.0},{"x":34.8,"y":6.35},{"x":34.8,"y":6.7},
{"x":35.0,"y":5.9},{"x":35.0,"y":6.25},{"x":35.0,"y":6.6},
{"x":35.2,"y":5.75},{"x":35.2,"y":6.1},{"x":35.2,"y":6.45},{"x":35.2,"y":6.8},
{"x":35.4,"y":6.0},{"x":35.4,"y":6.35},{"x":35.4,"y":6.7},
{"x":35.6,"y":5.85},{"x":35.6,"y":6.2},{"x":35.6,"y":6.55},{"x":35.6,"y":6.9},
{"x":35.8,"y":6.1},{"x":35.8,"y":6.45},{"x":35.8,"y":6.8},
{"x":36.0,"y":5.95},{"x":36.0,"y":6.3},{"x":36.0,"y":6.65},{"x":36.0,"y":7.0},
{"x":36.2,"y":6.2},{"x":36.2,"y":6.55},{"x":36.2,"y":6.9},
{"x":36.4,"y":6.05},{"x":36.4,"y":6.4},{"x":36.4,"y":6.75},{"x":36.4,"y":7.1},
{"x":36.6,"y":6.3},{"x":36.6,"y":6.65},{"x":36.6,"y":7.0},
{"x":36.8,"y":6.15},{"x":36.8,"y":6.5},{"x":36.8,"y":6.85},{"x":36.8,"y":7.2},
{"x":37.0,"y":6.4},{"x":37.0,"y":6.75},{"x":37.0,"y":7.1},
{"x":37.2,"y":6.25},{"x":37.2,"y":6.6},{"x":37.2,"y":6.95},
{"x":37.4,"y":6.5},{"x":37.4,"y":6.85},
{"x":37.6,"y":6.35},{"x":37.6,"y":6.7},{"x":37.6,"y":7.05},
{"x":38.0,"y":6.8},{"x":38.2,"y":6.95}],
"p8": [{"x":30.5,"y":5.45},{"x":30.7,"y":4.8},{"x":30.9,"y":4.65},{"x":31.1,"y":5.5},{"x":31.4,"y":5.55},{"x":31.7,"y":5.2},{"x":31.5,"y":5.9},{"x":31.9,"y":5.75},{"x":32.0,"y":6.15},{"x":32.2,"y":5.9},{"x":32.3,"y":5.6},{"x":32.5,"y":5.85},{"x":32.6,"y":6.05},{"x":32.8,"y":5.75},{"x":32.9,"y":6.4},{"x":33.0,"y":5.5},{"x":33.1,"y":6.1},{"x":33.2,"y":5.9},{"x":33.3,"y":6.5},{"x":33.4,"y":5.7},{"x":33.5,"y":6.25},{"x":33.6,"y":7.0},{"x":33.6,"y":5.35},{"x":33.7,"y":6.0},{"x":33.8,"y":6.6},{"x":33.9,"y":5.6},{"x":34.0,"y":7.15},{"x":34.0,"y":6.3},{"x":34.1,"y":5.9},{"x":34.2,"y":6.75},{"x":34.3,"y":6.05},{"x":34.4,"y":6.5},{"x":34.5,"y":5.75},{"x":34.6,"y":6.9},{"x":34.6,"y":6.2},{"x":34.7,"y":6.6},{"x":34.8,"y":5.5},{"x":34.9,"y":6.35},{"x":35.0,"y":6.05},{"x":35.0,"y":6.75},{"x":35.2,"y":6.45},{"x":35.3,"y":5.4},{"x":35.4,"y":6.85},{"x":35.5,"y":6.2},{"x":35.7,"y":6.55},{"x":35.9,"y":6.3},{"x":36.1,"y":6.4},{"x":36.4,"y":7.15},{"x":36.9,"y":5.85},{"x":37.0,"y":7.3},{"x":37.0,"y":7.6},{"x":37.1,"y":6.5},{"x":37.2,"y":6.2},{"x":37.5,"y":7.1},{"x":39.3,"y":8.65},{"x":33.2,"y":6.15},{"x":32.7,"y":5.45},{"x":34.3,"y":6.95},{"x":33.5,"y":5.95},{"x":34.9,"y":6.65},{"x":35.6,"y":6.85},{"x":32.4,"y":6.25},{"x":33.9,"y":6.85},{"x":35.1,"y":5.9},{"x":34.4,"y":6.0}]
},
"columns": 2,
"align": "each",
"bounds": "full",
"spacing": {"row": 28, "column": 45},
"concat": [
{"width":260,"height":259,
 "encoding":{"x":{"field":"x","type":"quantitative","scale":{"domain":[25,50],"nice":false,"zero":false},"axis":{"values":[25,30,35,40,45,50],"title":"Calf circumference (cm)"}},"y":{"field":"y","type":"quantitative","scale":{"domain":[0,14],"nice":false},"axis":{"values":[0,2,4,6,8,10,12,14],"title":"DXA-measured ASM/height² (kg/m²)"}}},
 "layer":[
  {"data":{"name":"p1"},"mark":{"type":"circle","size":32,"opacity":1,"color":"#000"}},
  {"data":{"name":"lines"},"transform":[{"filter":"datum.p==1"}],"mark":{"type":"line","color":"#000","strokeWidth":1.3},"encoding":{}},
  {"data":{"name":"labels"},"transform":[{"filter":"datum.p==1"}],"layer":[
   {"transform":[{"filter":"datum.k=='title'"}],"mark":{"type":"text","align":"left","baseline":"middle","fontSize":16.3,"fontWeight":"bold","color":"#111"},"encoding":{"text":{"field":"t"}}},
   {"transform":[{"filter":"datum.k=='eq'"}],"mark":{"type":"text","align":"right","baseline":"middle","fontSize":15,"color":"#222"},"encoding":{"text":{"field":"t"}}},
   {"transform":[{"filter":"datum.k=='r'"}],"mark":{"type":"text","align":"right","baseline":"middle","fontSize":15,"color":"#222"},"encoding":{"text":{"field":"t"}}},
   {"transform":[{"filter":"datum.k=='r'"}],"mark":{"type":"text","align":"right","baseline":"middle","fontSize":15,"fontStyle":"italic","color":"#222","dx":-46},"encoding":{"text":{"value":"r"}}},
   {"transform":[{"filter":"datum.k=='tag'"}],"mark":{"type":"text","align":"center","baseline":"middle","fontSize":24,"color":"#111"},"encoding":{"text":{"field":"t"}}}
  ]}
 ]},
{"width":260,"height":259,
 "encoding":{"x":{"field":"x","type":"quantitative","scale":{"domain":[25,50],"nice":false,"zero":false},"axis":{"values":[25,30,35,40,45,50],"title":"Calf circumference (cm)"}},"y":{"field":"y","type":"quantitative","scale":{"domain":[0,14],"nice":false},"axis":{"values":[0,2,4,6,8,10,12,14],"title":"DXA-measured ASM/height² (kg/m²)"}}},
 "layer":[
  {"data":{"name":"p2"},"mark":{"type":"circle","size":28,"opacity":1,"color":"#000"}},
  {"data":{"name":"lines"},"transform":[{"filter":"datum.p==2"}],"mark":{"type":"line","color":"#000","strokeWidth":1.3},"encoding":{}},
  {"data":{"name":"labels"},"transform":[{"filter":"datum.p==2"}],"layer":[
   {"transform":[{"filter":"datum.k=='title'"}],"mark":{"type":"text","align":"left","baseline":"middle","fontSize":16.3,"fontWeight":"bold","color":"#111"},"encoding":{"text":{"field":"t"}}},
   {"transform":[{"filter":"datum.k=='eq'"}],"mark":{"type":"text","align":"right","baseline":"middle","fontSize":15,"color":"#222"},"encoding":{"text":{"field":"t"}}},
   {"transform":[{"filter":"datum.k=='r'"}],"mark":{"type":"text","align":"right","baseline":"middle","fontSize":15,"color":"#222"},"encoding":{"text":{"field":"t"}}},
   {"transform":[{"filter":"datum.k=='r'"}],"mark":{"type":"text","align":"right","baseline":"middle","fontSize":15,"fontStyle":"italic","color":"#222","dx":-46},"encoding":{"text":{"value":"r"}}}
  ]}
 ]},
{"width":260,"height":259,
 "encoding":{"x":{"field":"x","type":"quantitative","scale":{"domain":[25,50],"nice":false,"zero":false},"axis":{"values":[25,30,35,40,45,50],"title":"Calf circumference (cm)"}},"y":{"field":"y","type":"quantitative","scale":{"domain":[0,14],"nice":false},"axis":{"values":[0,2,4,6,8,10,12,14],"title":"DXA-measured ASM/height² (kg/m²)"}}},
 "layer":[
  {"data":{"name":"p3"},"mark":{"type":"circle","size":32,"opacity":1,"color":"#000"}},
  {"data":{"name":"lines"},"transform":[{"filter":"datum.p==3"}],"mark":{"type":"line","color":"#000","strokeWidth":1.3},"encoding":{}},
  {"data":{"name":"labels"},"transform":[{"filter":"datum.p==3"}],"layer":[
   {"transform":[{"filter":"datum.k=='title'"}],"mark":{"type":"text","align":"left","baseline":"middle","fontSize":16.3,"fontWeight":"bold","color":"#111"},"encoding":{"text":{"field":"t"}}},
   {"transform":[{"filter":"datum.k=='eq'"}],"mark":{"type":"text","align":"right","baseline":"middle","fontSize":15,"color":"#222"},"encoding":{"text":{"field":"t"}}},
   {"transform":[{"filter":"datum.k=='r'"}],"mark":{"type":"text","align":"right","baseline":"middle","fontSize":15,"color":"#222"},"encoding":{"text":{"field":"t"}}},
   {"transform":[{"filter":"datum.k=='r'"}],"mark":{"type":"text","align":"right","baseline":"middle","fontSize":15,"fontStyle":"italic","color":"#222","dx":-46},"encoding":{"text":{"value":"r"}}}
  ]}
 ]},
{"width":260,"height":259,
 "encoding":{"x":{"field":"x","type":"quantitative","scale":{"domain":[25,50],"nice":false,"zero":false},"axis":{"values":[25,30,35,40,45,50],"title":"Calf circumference (cm)"}},"y":{"field":"y","type":"quantitative","scale":{"domain":[0,14],"nice":false},"axis":{"values":[0,2,4,6,8,10,12,14],"title":"DXA-measured ASM/height² (kg/m²)"}}},
 "layer":[
  {"data":{"name":"p4"},"mark":{"type":"circle","size":28,"opacity":1,"color":"#000"}},
  {"data":{"name":"lines"},"transform":[{"filter":"datum.p==4"}],"mark":{"type":"line","color":"#000","strokeWidth":1.3},"encoding":{}},
  {"data":{"name":"labels"},"transform":[{"filter":"datum.p==4"}],"layer":[
   {"transform":[{"filter":"datum.k=='title'"}],"mark":{"type":"text","align":"left","baseline":"middle","fontSize":16.3,"fontWeight":"bold","color":"#111"},"encoding":{"text":{"field":"t"}}},
   {"transform":[{"filter":"datum.k=='eq'"}],"mark":{"type":"text","align":"right","baseline":"middle","fontSize":15,"color":"#222"},"encoding":{"text":{"field":"t"}}},
   {"transform":[{"filter":"datum.k=='r'"}],"mark":{"type":"text","align":"right","baseline":"middle","fontSize":15,"color":"#222"},"encoding":{"text":{"field":"t"}}},
   {"transform":[{"filter":"datum.k=='r'"}],"mark":{"type":"text","align":"right","baseline":"middle","fontSize":15,"fontStyle":"italic","color":"#222","dx":-46},"encoding":{"text":{"value":"r"}}}
  ]}
 ]},
{"width":260,"height":259,
 "encoding":{"x":{"field":"x","type":"quantitative","scale":{"domain":[25,50],"nice":false,"zero":false},"axis":{"values":[25,30,35,40,45,50],"title":"Calf circumference (cm)"}},"y":{"field":"y","type":"quantitative","scale":{"domain":[0,14],"nice":false},"axis":{"values":[0,2,4,6,8,10,12,14],"title":"DXA-measured ASM/height² (kg/m²)"}}},
 "layer":[
  {"data":{"name":"p5"},"mark":{"type":"circle","size":32,"opacity":1,"color":"#000"}},
  {"data":{"name":"lines"},"transform":[{"filter":"datum.p==5"}],"mark":{"type":"line","color":"#000","strokeWidth":1.3},"encoding":{}},
  {"data":{"name":"labels"},"transform":[{"filter":"datum.p==5"}],"layer":[
   {"transform":[{"filter":"datum.k=='title'"}],"mark":{"type":"text","align":"left","baseline":"middle","fontSize":16.3,"fontWeight":"bold","color":"#111"},"encoding":{"text":{"field":"t"}}},
   {"transform":[{"filter":"datum.k=='eq'"}],"mark":{"type":"text","align":"right","baseline":"middle","fontSize":15,"color":"#222"},"encoding":{"text":{"field":"t"}}},
   {"transform":[{"filter":"datum.k=='r'"}],"mark":{"type":"text","align":"right","baseline":"middle","fontSize":15,"color":"#222"},"encoding":{"text":{"field":"t"}}},
   {"transform":[{"filter":"datum.k=='r'"}],"mark":{"type":"text","align":"right","baseline":"middle","fontSize":15,"fontStyle":"italic","color":"#222","dx":-46},"encoding":{"text":{"value":"r"}}},
   {"transform":[{"filter":"datum.k=='tag'"}],"mark":{"type":"text","align":"center","baseline":"middle","fontSize":24,"color":"#111"},"encoding":{"text":{"field":"t"}}}
  ]}
 ]},
{"width":260,"height":259,
 "encoding":{"x":{"field":"x","type":"quantitative","scale":{"domain":[25,50],"nice":false,"zero":false},"axis":{"values":[25,30,35,40,45,50],"title":"Calf circumference (cm)"}},"y":{"field":"y","type":"quantitative","scale":{"domain":[0,14],"nice":false},"axis":{"values":[0,2,4,6,8,10,12,14],"title":"DXA-measured ASM/height² (kg/m²)"}}},
 "layer":[
  {"data":{"name":"p6"},"mark":{"type":"circle","size":32,"opacity":1,"color":"#000"}},
  {"data":{"name":"lines"},"transform":[{"filter":"datum.p==6"}],"mark":{"type":"line","color":"#000","strokeWidth":1.3},"encoding":{}},
  {"data":{"name":"labels"},"transform":[{"filter":"datum.p==6"}],"layer":[
   {"transform":[{"filter":"datum.k=='title'"}],"mark":{"type":"text","align":"left","baseline":"middle","fontSize":16.3,"fontWeight":"bold","color":"#111"},"encoding":{"text":{"field":"t"}}},
   {"transform":[{"filter":"datum.k=='eq'"}],"mark":{"type":"text","align":"right","baseline":"middle","fontSize":15,"color":"#222"},"encoding":{"text":{"field":"t"}}},
   {"transform":[{"filter":"datum.k=='r'"}],"mark":{"type":"text","align":"right","baseline":"middle","fontSize":15,"color":"#222"},"encoding":{"text":{"field":"t"}}},
   {"transform":[{"filter":"datum.k=='r'"}],"mark":{"type":"text","align":"right","baseline":"middle","fontSize":15,"fontStyle":"italic","color":"#222","dx":-46},"encoding":{"text":{"value":"r"}}}
  ]}
 ]},
{"width":260,"height":259,
 "encoding":{"x":{"field":"x","type":"quantitative","scale":{"domain":[25,50],"nice":false,"zero":false},"axis":{"values":[25,30,35,40,45,50],"title":"Calf circumference (cm)"}},"y":{"field":"y","type":"quantitative","scale":{"domain":[0,14],"nice":false},"axis":{"values":[0,2,4,6,8,10,12,14],"title":"DXA-measured ASM/height² (kg/m²)"}}},
 "layer":[
  {"data":{"name":"p7"},"mark":{"type":"circle","size":32,"opacity":1,"color":"#000"}},
  {"data":{"name":"lines"},"transform":[{"filter":"datum.p==7"}],"mark":{"type":"line","color":"#000","strokeWidth":1.3},"encoding":{}},
  {"data":{"name":"labels"},"transform":[{"filter":"datum.p==7"}],"layer":[
   {"transform":[{"filter":"datum.k=='title'"}],"mark":{"type":"text","align":"left","baseline":"middle","fontSize":16.3,"fontWeight":"bold","color":"#111"},"encoding":{"text":{"field":"t"}}},
   {"transform":[{"filter":"datum.k=='eq'"}],"mark":{"type":"text","align":"right","baseline":"middle","fontSize":15,"color":"#222"},"encoding":{"text":{"field":"t"}}},
   {"transform":[{"filter":"datum.k=='r'"}],"mark":{"type":"text","align":"right","baseline":"middle","fontSize":15,"color":"#222"},"encoding":{"text":{"field":"t"}}},
   {"transform":[{"filter":"datum.k=='r'"}],"mark":{"type":"text","align":"right","baseline":"middle","fontSize":15,"fontStyle":"italic","color":"#222","dx":-46},"encoding":{"text":{"value":"r"}}}
  ]}
 ]},
{"width":260,"height":259,
 "encoding":{"x":{"field":"x","type":"quantitative","scale":{"domain":[25,50],"nice":false,"zero":false},"axis":{"values":[25,30,35,40,45,50],"title":"Calf circumference (cm)"}},"y":{"field":"y","type":"quantitative","scale":{"domain":[0,14],"nice":false},"axis":{"values":[0,2,4,6,8,10,12,14],"title":"DXA-measured ASM/height² (kg/m²)"}}},
 "layer":[
  {"data":{"name":"p8"},"mark":{"type":"circle","size":28,"opacity":1,"color":"#000"}},
  {"data":{"name":"lines"},"transform":[{"filter":"datum.p==8"}],"mark":{"type":"line","color":"#000","strokeWidth":1.3},"encoding":{}},
  {"data":{"name":"labels"},"transform":[{"filter":"datum.p==8"}],"layer":[
   {"transform":[{"filter":"datum.k=='title'"}],"mark":{"type":"text","align":"left","baseline":"middle","fontSize":16.3,"fontWeight":"bold","color":"#111"},"encoding":{"text":{"field":"t"}}},
   {"transform":[{"filter":"datum.k=='eq'"}],"mark":{"type":"text","align":"right","baseline":"middle","fontSize":15,"color":"#222"},"encoding":{"text":{"field":"t"}}},
   {"transform":[{"filter":"datum.k=='r'"}],"mark":{"type":"text","align":"right","baseline":"middle","fontSize":15,"color":"#222"},"encoding":{"text":{"field":"t"}}},
   {"transform":[{"filter":"datum.k=='r'"}],"mark":{"type":"text","align":"right","baseline":"middle","fontSize":15,"fontStyle":"italic","color":"#222","dx":-46},"encoding":{"text":{"value":"r"}}}
  ]}
 ]}
]
}
